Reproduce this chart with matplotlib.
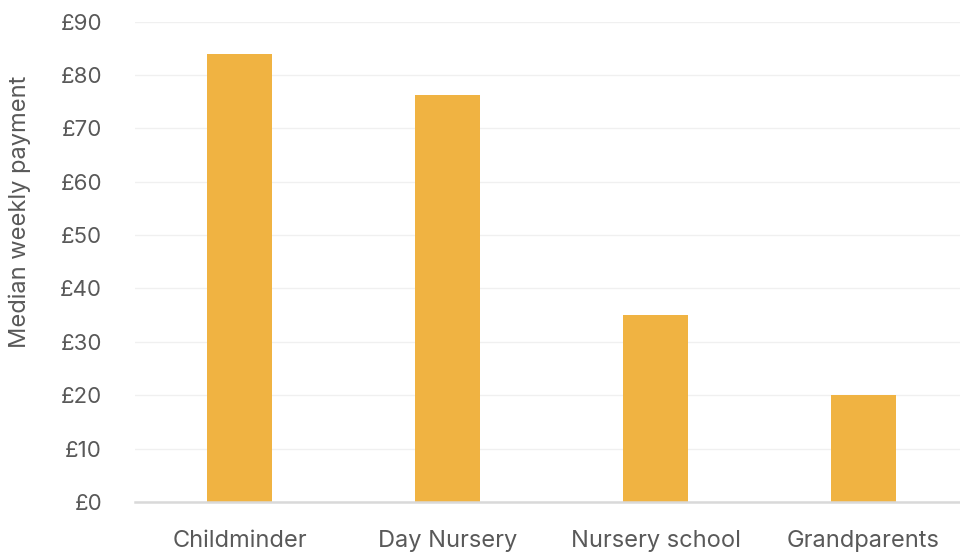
import matplotlib.pyplot as plt

# median weekly childcare payment by provider type
providers = ['Childminder', 'Day Nursery', 'Nursery school', 'Grandparents']
median_payment = [84, 76.3, 35, 20]
y_ticks = [0, 10, 20, 30, 40, 50, 60, 70, 80, 90]
y_tick_labels = [f'£{v}' for v in y_ticks]

bar_color = '#F0B342'
text_color = '#595959'

plt.rcParams['font.family'] = ['Inter', 'DejaVu Sans']

fig = plt.figure(figsize=(9.6, 5.56), dpi=100)
ax = fig.add_axes([0.1411, 0.0971, 0.8667, 0.8642])

ax.bar(range(len(providers)), median_payment, width=0.31, color=bar_color, zorder=3)

ax.set_xlim(-0.5, len(providers) - 0.5)
ax.set_ylim(0, 90)
ax.set_yticks(y_ticks)
ax.set_yticklabels(y_tick_labels)
ax.set_xticks(range(len(providers)))
ax.set_xticklabels(providers)

ax.grid(axis='y', color='#F0F0F0', linewidth=1, zorder=0)
ax.tick_params(axis='y', length=0, pad=24, labelsize=16, labelcolor=text_color)
ax.tick_params(axis='x', length=0, pad=20, labelsize=17, labelcolor=text_color)

for side in ['top', 'right', 'left']:
    ax.spines[side].set_visible(False)
ax.spines['bottom'].set_color('#D9D9D9')
ax.spines['bottom'].set_linewidth(1.8)
ax.spines['bottom'].set_zorder(4)

ax.set_ylabel('Median weekly payment', fontsize=17, color=text_color)
ax.yaxis.set_label_coords(-0.125, 0.603)

fig.savefig('out.png', dpi=100)
